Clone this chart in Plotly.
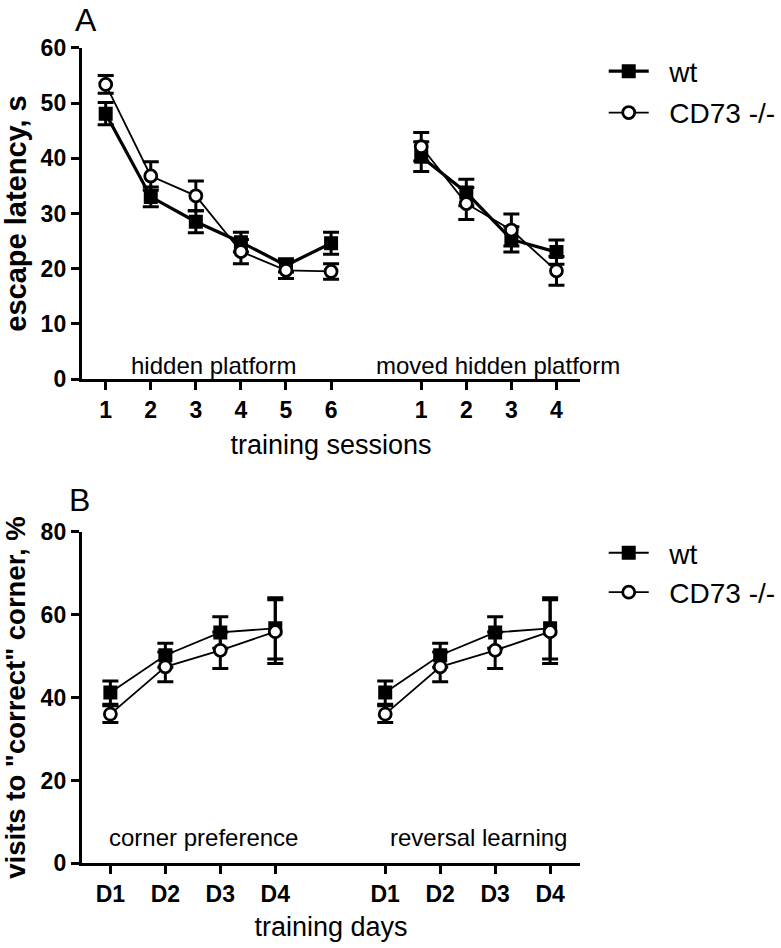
import plotly.graph_objects as go

# ---- data ----
sessions_hidden = [1, 2, 3, 4, 5, 6]
sessions_moved = [8, 9, 10, 11]
session_ticks = [1, 2, 3, 4, 5, 6, 8, 9, 10, 11]
session_labels = ["1", "2", "3", "4", "5", "6", "1", "2", "3", "4"]

wt_hidden = [48.1, 33.0, 28.5, 24.8, 20.6, 24.6]
wt_hidden_err = [2.0, 1.8, 2.0, 1.8, 1.2, 2.0]
ko_hidden = [53.4, 36.8, 33.2, 23.1, 19.7, 19.5]
ko_hidden_err = [1.6, 2.6, 2.7, 2.2, 1.5, 1.4]

wt_moved = [40.3, 33.8, 25.3, 23.0]
wt_moved_err = [2.7, 2.4, 2.3, 2.2]
ko_moved = [42.1, 31.8, 27.0, 19.6]
ko_moved_err = [2.6, 2.9, 2.9, 2.6]

days_pref = [1, 2, 3, 4]
days_rev = [6, 7, 8, 9]
day_ticks = [1, 2, 3, 4, 6, 7, 8, 9]
day_labels = ["D1", "D2", "D3", "D4", "D1", "D2", "D3", "D4"]

wt_pref = [41.2, 50.2, 55.7, 56.7]
wt_pref_err = [2.8, 2.9, 3.8, 7.4]
ko_pref = [36.0, 47.4, 51.4, 55.9]
ko_pref_err = [2.0, 3.6, 4.4, 7.7]

wt_rev = [41.2, 50.2, 55.7, 56.7]
wt_rev_err = [2.8, 2.9, 3.8, 7.4]
ko_rev = [36.0, 47.4, 51.4, 55.9]
ko_rev_err = [2.0, 3.6, 4.4, 7.7]

series_names = ["wt", "CD73 -/-"]

FONT = "Liberation Sans, Arial, sans-serif"
PAD = "\u00a0\u00a0"

fig = go.Figure()


def add(x, y, err, name, wt, xa, ya, lw, legend, show):
    fig.add_trace(go.Scatter(
        x=x, y=y, xaxis=xa, yaxis=ya, name=PAD + name,
        legendgroup=name + legend, showlegend=show, legend=legend,
        mode="lines+markers",
        line=dict(color="black", width=lw),
        marker=dict(symbol="square" if wt else "circle",
                    size=14 if wt else 12,
                    color="black" if wt else "white",
                    line=dict(color="black", width=0 if wt else 2.8)),
        error_y=dict(type="data", array=err, visible=True,
                     color="black", thickness=3, width=8),
    ))


WT, KO = series_names

# Panel A
add(sessions_hidden, wt_hidden, wt_hidden_err, WT, True, "x", "y", 3.2, "legend", True)
add(sessions_moved, wt_moved, wt_moved_err, WT, True, "x", "y", 3.2, "legend", False)
add(sessions_hidden, ko_hidden, ko_hidden_err, KO, False, "x", "y", 1.8, "legend", True)
add(sessions_moved, ko_moved, ko_moved_err, KO, False, "x", "y", 1.8, "legend", False)

# Panel B
add(days_pref, wt_pref, wt_pref_err, WT, True, "x2", "y2", 1.8, "legend2", True)
add(days_rev, wt_rev, wt_rev_err, WT, True, "x2", "y2", 1.8, "legend2", False)
add(days_pref, ko_pref, ko_pref_err, KO, False, "x2", "y2", 1.8, "legend2", True)
add(days_rev, ko_rev, ko_rev_err, KO, False, "x2", "y2", 1.8, "legend2", False)

axis_common = dict(showline=True, linecolor="black", linewidth=3,
                   ticks="outside", tickcolor="black", tickwidth=3, ticklen=8,
                   showgrid=False, zeroline=False, automargin=False,
                   tickfont=dict(family=FONT, size=23, color="black", weight="bold"))

fig.update_layout(
    width=781, height=948,
    margin=dict(l=0, r=0, t=0, b=0),
    paper_bgcolor="white", plot_bgcolor="white",
    font=dict(family=FONT, color="black"),
    xaxis=dict(domain=[0.105, 0.745], range=[0.47, 11.53], anchor="y",
               tickvals=session_ticks, ticktext=session_labels,
               title=dict(text="training sessions", font=dict(family=FONT, size=27), standoff=14),
               **axis_common),
    yaxis=dict(domain=[0.6002, 0.9494], range=[0, 60], anchor="x",
               tickvals=[0, 10, 20, 30, 40, 50, 60],
               title=dict(text="escape latency, s", font=dict(family=FONT, size=29, weight="bold"), standoff=8),
               **axis_common),
    xaxis2=dict(domain=[0.105, 0.745], range=[0.48, 9.55], anchor="y2",
                tickvals=day_ticks, ticktext=day_labels,
                title=dict(text="training days", font=dict(family=FONT, size=27), standoff=12),
                **axis_common),
    yaxis2=dict(domain=[0.0893, 0.4391], range=[0, 80], anchor="x2",
                tickvals=[0, 20, 40, 60, 80],
                title=dict(text='visits to "correct" corner, %', font=dict(family=FONT, size=27.5, weight="bold"), standoff=8),
                **axis_common),
    legend=dict(x=0.775, y=0.951, xanchor="left", yanchor="top",
                font=dict(family=FONT, size=28), bgcolor="rgba(0,0,0,0)",
                itemwidth=40, tracegroupgap=2),
    legend2=dict(x=0.775, y=0.443, xanchor="left", yanchor="top",
                 font=dict(family=FONT, size=28), bgcolor="rgba(0,0,0,0)",
                 itemwidth=40, tracegroupgap=0),
    annotations=[
        dict(text="A", x=73 / 781, y=1 - 0 / 948, xref="paper", yref="paper",
             xanchor="left", yanchor="top", showarrow=False, font=dict(family=FONT, size=32)),
        dict(text="B", x=67 / 781, y=1 - 480 / 948, xref="paper", yref="paper",
             xanchor="left", yanchor="top", showarrow=False, font=dict(family=FONT, size=32)),
        dict(text="hidden platform", x=3.4, y=0, yshift=-2, xref="x", yref="y", yanchor="bottom",
             showarrow=False, font=dict(family=FONT, size=24)),
        dict(text="moved hidden platform", x=9.7, y=0, yshift=-2, xref="x", yref="y", yanchor="bottom",
             showarrow=False, font=dict(family=FONT, size=24)),
        dict(text="corner preference", x=2.7, y=2.5, xref="x2", yref="y2", yanchor="bottom",
             showarrow=False, font=dict(family=FONT, size=24)),
        dict(text="reversal learning", x=7.7, y=2.5, xref="x2", yref="y2", yanchor="bottom",
             showarrow=False, font=dict(family=FONT, size=24)),
    ],
)

fig.write_html("out.html", config={"displayModeBar": False},
               post_script="document.body.style.margin='0';")
